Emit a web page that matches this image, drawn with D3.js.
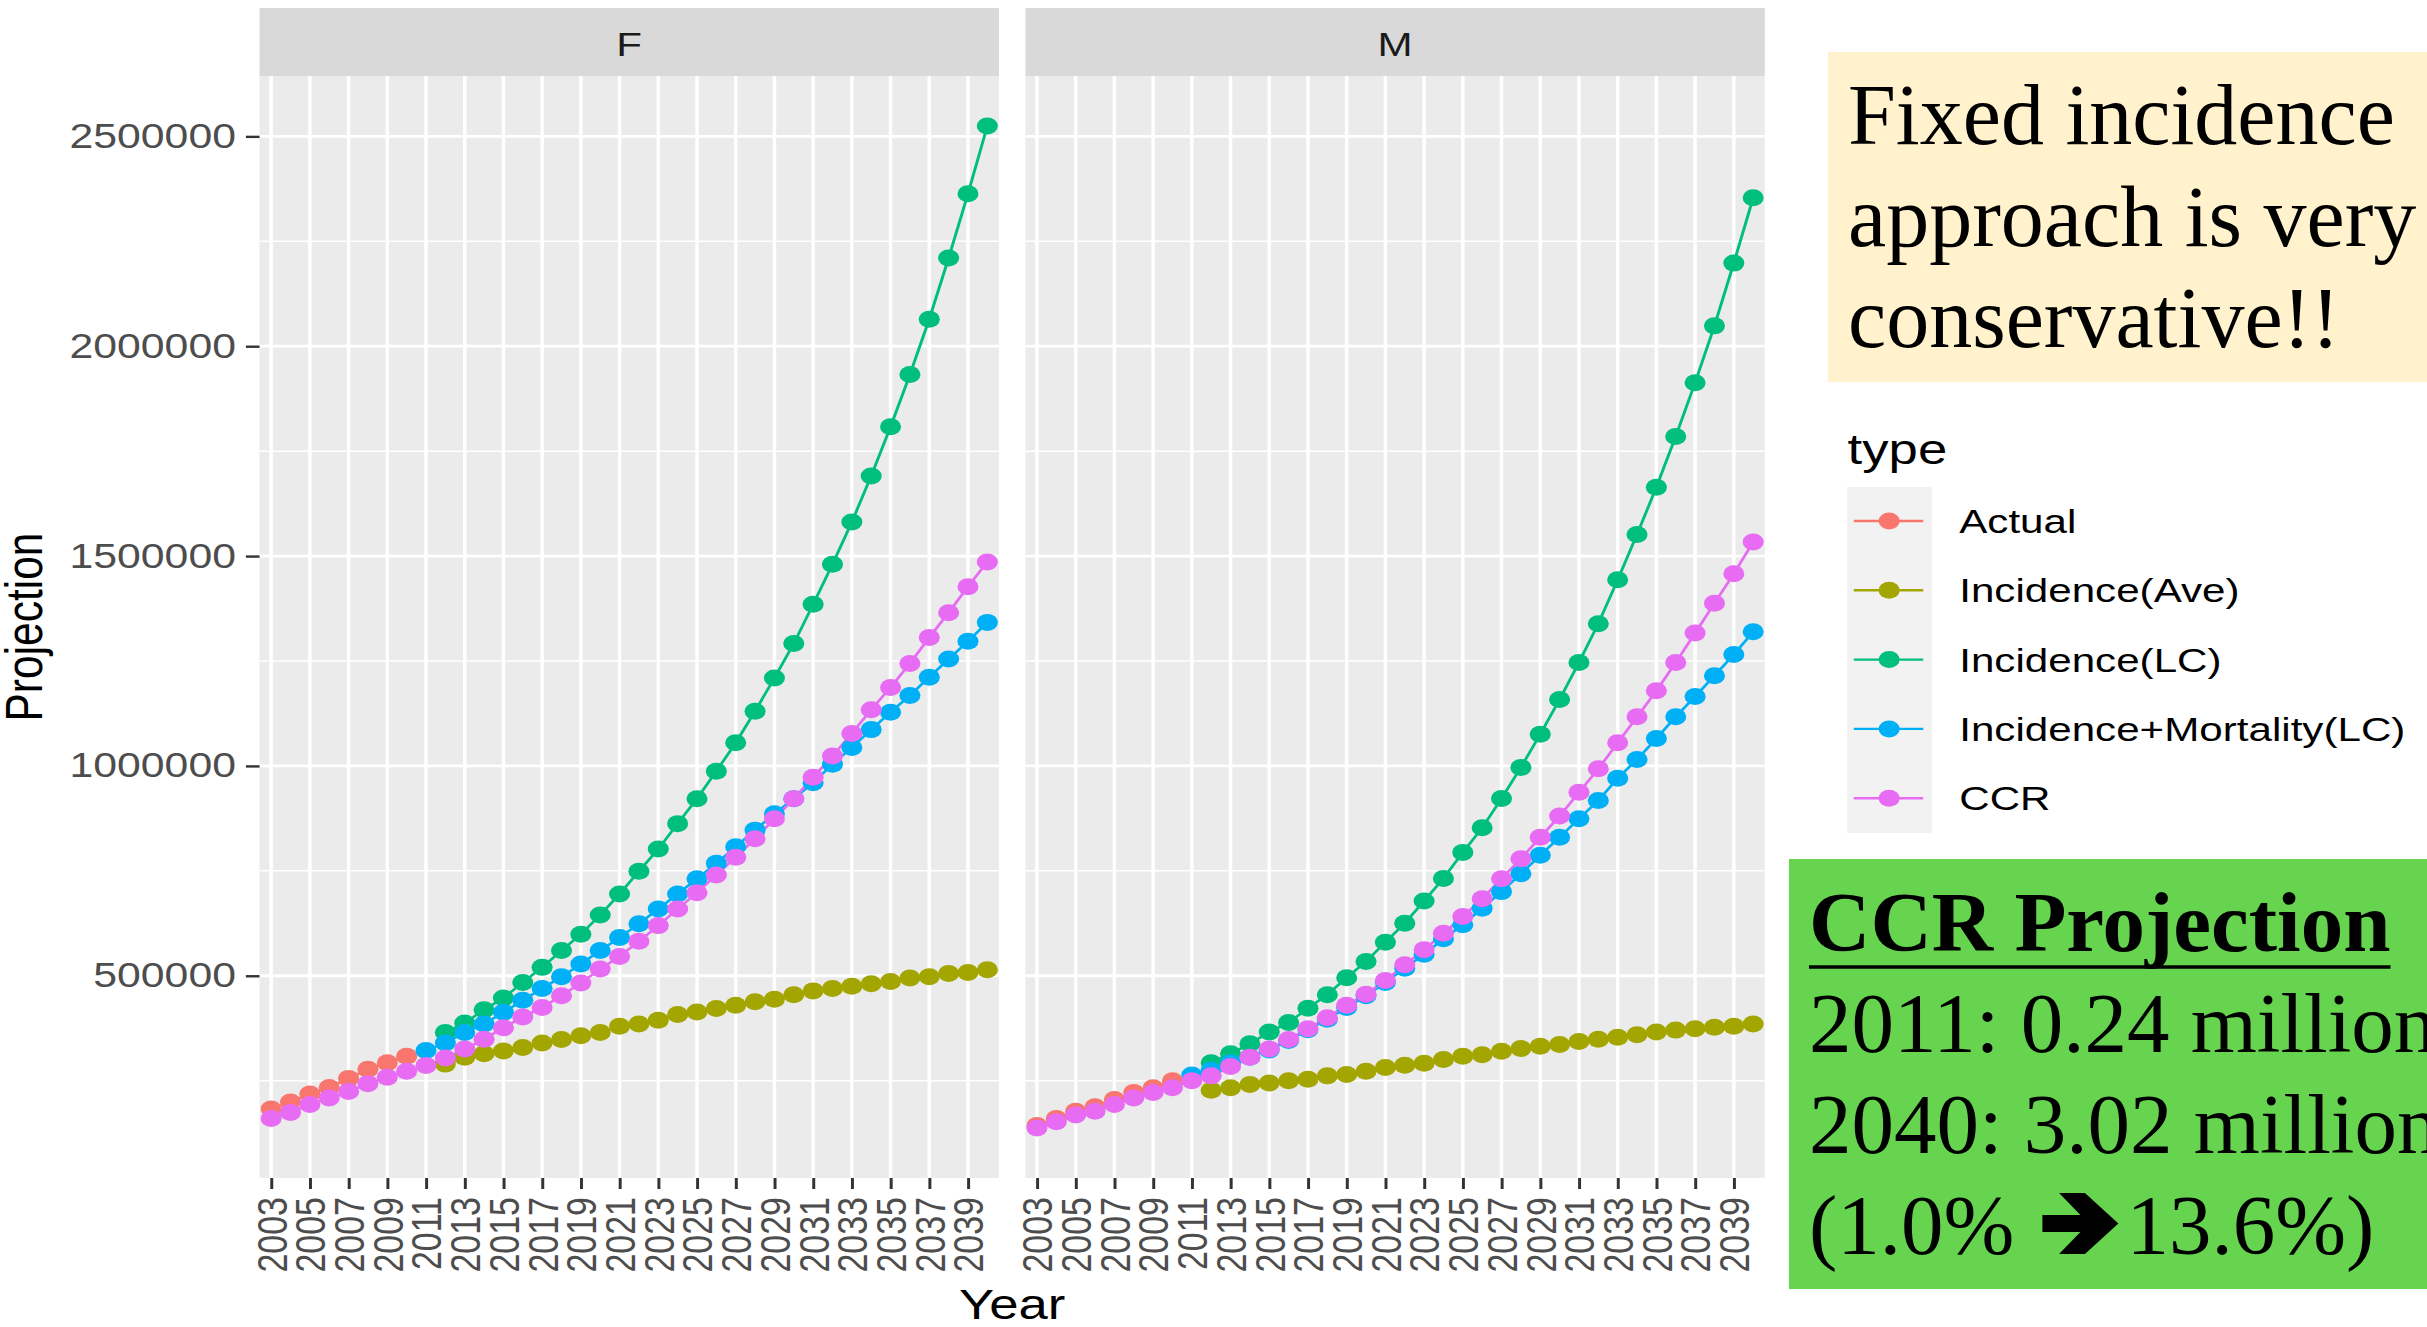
<!DOCTYPE html>
<html>
<head>
<meta charset="utf-8">
<script src="https://cdn.jsdelivr.net/npm/d3@7"></script>
<style>
  html, body { margin: 0; padding: 0; background: #fff; overflow: hidden; }
  svg { display: block; }
</style>
</head>
<body>
<svg id="chart" width="2427" height="1327"></svg>
<script>
// ---- data ----
const years = [2003, 2004, 2005, 2006, 2007, 2008, 2009, 2010, 2011, 2012, 2013, 2014, 2015,
  2016, 2017, 2018, 2019, 2020, 2021, 2022, 2023, 2024, 2025, 2026, 2027, 2028, 2029, 2030,
  2031, 2032, 2033, 2034, 2035, 2036, 2037, 2038, 2039, 2040];
const yearBreaks = [2003, 2005, 2007, 2009, 2011, 2013, 2015, 2017, 2019, 2021, 2023, 2025,
  2027, 2029, 2031, 2033, 2035, 2037, 2039];
const facets = ["F", "M"];
const types = ["Actual", "Incidence(Ave)", "Incidence(LC)", "Incidence+Mortality(LC)", "CCR"];
const typeColors = ["#F8766D", "#A3A500", "#00BF7D", "#00B0F6", "#E76BF3"];
const firstYear = [2003, 2012, 2012, 2011, 2003]; // first year of each series

// F panel
const actualF = [182500, 199000, 218500, 234000, 255500, 277000, 293000, 308500];
const aveF = [289500, 306000, 314000, 321000, 329000, 340000, 348000, 357000, 365000, 379500,
  385000, 394000, 407500, 413500, 422000, 430000, 438000, 444000, 455000, 464000, 469500,
  475000, 481000, 486500, 494500, 497500, 505500, 508000, 514500];
const lcF = [365000, 387500, 419000, 447000, 484000, 520000, 560000, 599000, 645000, 695000,
  749000, 802000, 862500, 922000, 987500, 1055000, 1130500, 1209500, 1291500, 1385000, 1480500,
  1581000, 1691000, 1808000, 1932500, 2064500, 2210000, 2363500, 2524500];
const imF = [322000, 340000, 365000, 385000, 413000, 441500, 469500, 497500, 528000, 560000,
  591000, 624000, 659000, 695000, 731000, 768000, 807500, 847000, 886000, 922000, 960000,
  1004000, 1044000, 1086500, 1128000, 1168000, 1211500, 1254500, 1297000, 1342000];
const ccrF = [160000, 174500, 193500, 208500, 224000, 243000, 258000, 272500, 286000, 304000,
  325500, 349000, 376000, 402000, 424500, 452500, 483000, 516000, 546000, 582000, 619500,
  659000, 698000, 740000, 782500, 826500, 874000, 922000, 973000, 1023500, 1077500, 1134000,
  1187000, 1244000, 1306000, 1365000, 1427000, 1486000];

// M panel
const actualM = [143000, 160000, 177000, 188000, 205000, 222000, 233000, 250000];
const aveM = [227500, 233000, 241000, 244500, 250000, 253500, 261500, 264500, 272500, 281500,
  287000, 291500, 300500, 308500, 312000, 320000, 326500, 332000, 336500, 343500, 349000,
  353500, 359500, 366000, 370500, 374000, 377500, 379500, 385000];
const lcM = [293000, 314000, 338000, 366000, 388500, 422500, 455000, 495500, 534000, 580000,
  625000, 678000, 732000, 794000, 852500, 922500, 996500, 1075500, 1158500, 1246500, 1339000,
  1443500, 1551500, 1664000, 1785000, 1913000, 2048500, 2198000, 2353500];
const imM = [263500, 275000, 293000, 306000, 323000, 345500, 371500, 396500, 424500, 452500,
  484000, 518000, 551000, 588000, 621500, 661000, 700500, 743000, 787000, 830000, 874000,
  917500, 970500, 1015500, 1065500, 1117000, 1165500, 1215000, 1265500, 1319500];
const ccrM = [137500, 152000, 168000, 177000, 193500, 208500, 222000, 233000, 250000, 261500,
  284000, 306000, 325500, 348000, 374000, 400000, 430000, 456000, 488500, 526000, 562000,
  601500, 641000, 683500, 731000, 779000, 830000, 880500, 937000, 993000, 1055000, 1117000,
  1179000, 1246500, 1316500, 1387500, 1458000, 1533500];

const yBreaks = [500000, 1000000, 1500000, 2000000, 2500000];
const yMinorBreaks = [250000, 750000, 1250000, 1750000, 2250000];

const noteLines = ["Fixed incidence", "approach is very", "conservative!!"];
const ccrTitle = "CCR Projection";
const ccrLines = ["2011: 0.24 million", "2040: 3.02 million"];
const ccrChange = ["(1.0%", "13.6%)"];

// ---- layout ----
const SX = 1.24;                 // the ggplot image is stretched sideways
const stripTop = 8, panelTop = 76, panelBottom = 1178;
const panelX = [[209.3, 805.6], [826.9, 1423.2]];
const sansFont = "'Liberation Sans', Arial, sans-serif";
const serifFont = "'Liberation Serif', 'Times New Roman', serif";

const seriesByFacet = {
  F: [actualF, aveF, lcF, imF, ccrF],
  M: [actualM, aveM, lcM, imM, ccrM]
};

const svg = d3.select("#chart");
const plot = svg.append("g").attr("transform", `scale(${SX},1)`);

const allValues = Object.values(seriesByFacet).flat(2);
const [lo, hi] = d3.extent(allValues);
const pad = (hi - lo) * 0.05;
const y = d3.scaleLinear().domain([lo - pad, hi + pad]).range([panelBottom, panelTop]);

const line = d3.line();

facets.forEach((facet, fi) => {
  const [x0, x1] = panelX[fi];
  const x = d3.scalePoint().domain(years).range([x0, x1]).padding(0.6);
  const g = plot.append("g").attr("class", "panel-" + facet);

  // panel background + grid
  g.append("rect")
    .attr("x", x0).attr("y", panelTop)
    .attr("width", x1 - x0).attr("height", panelBottom - panelTop)
    .attr("fill", "#EBEBEB");

  g.selectAll("line.minor")
    .data(yMinorBreaks.filter(v => v > y.domain()[0] && v < y.domain()[1]))
    .join("line")
    .attr("class", "minor")
    .attr("x1", x0).attr("x2", x1)
    .attr("y1", d => y(d)).attr("y2", d => y(d))
    .attr("stroke", "#fff").attr("stroke-width", 1.5);

  g.selectAll("line.hmajor")
    .data(yBreaks)
    .join("line")
    .attr("class", "hmajor")
    .attr("x1", x0).attr("x2", x1)
    .attr("y1", d => y(d)).attr("y2", d => y(d))
    .attr("stroke", "#fff").attr("stroke-width", 2.8);

  g.selectAll("line.vmajor")
    .data(yearBreaks)
    .join("line")
    .attr("class", "vmajor")
    .attr("x1", d => x(d)).attr("x2", d => x(d))
    .attr("y1", panelTop).attr("y2", panelBottom)
    .attr("stroke", "#fff").attr("stroke-width", 2.8);

  // strip
  g.append("rect")
    .attr("x", x0).attr("y", stripTop)
    .attr("width", x1 - x0).attr("height", panelTop - stripTop)
    .attr("fill", "#D9D9D9");
  g.append("text")
    .attr("x", (x0 + x1) / 2).attr("y", (stripTop + panelTop) / 2)
    .attr("dy", "0.4em")
    .attr("text-anchor", "middle")
    .attr("font-family", sansFont).attr("font-size", 34)
    .attr("fill", "#1A1A1A")
    .text(facet);

  // series
  const series = seriesByFacet[facet].map((vals, ti) =>
    vals.map((v, i) => ({ year: firstYear[ti] + i, value: v, type: ti })));

  g.selectAll("path.series")
    .data(series)
    .join("path")
    .attr("class", "series")
    .attr("d", s => line(s.map(d => [x(d.year), y(d.value)])))
    .attr("fill", "none")
    .attr("stroke", (s, i) => typeColors[i])
    .attr("stroke-width", 2.4);

  g.selectAll("g.pts")
    .data(series)
    .join("g")
    .attr("class", "pts")
    .attr("fill", (s, i) => typeColors[i])
    .selectAll("circle")
    .data(s => s)
    .join("circle")
    .attr("cx", d => x(d.year))
    .attr("cy", d => y(d.value))
    .attr("r", 8.5);

  // x axis
  const xAxis = g.append("g")
    .attr("transform", `translate(0,${panelBottom})`)
    .call(d3.axisBottom(x).tickValues(yearBreaks).tickSize(11).tickPadding(8));
  xAxis.select(".domain").remove();
  xAxis.selectAll(".tick line").attr("stroke", "#333").attr("stroke-width", 2.4);
  xAxis.selectAll(".tick text")
    .attr("transform", "rotate(-90)")
    .attr("text-anchor", "end")
    .attr("x", -19).attr("y", 0).attr("dy", "0.35em")
    .attr("font-family", sansFont).attr("font-size", 34)
    .attr("fill", "#4D4D4D");

  // y axis on the first panel only
  if (fi === 0) {
    const yAxis = g.append("g")
      .attr("transform", `translate(${x0},0)`)
      .call(d3.axisLeft(y).tickValues(yBreaks).tickSize(11).tickPadding(8)
        .tickFormat(d3.format("d")));
    yAxis.select(".domain").remove();
    yAxis.selectAll(".tick line").attr("stroke", "#333").attr("stroke-width", 2.4);
    yAxis.selectAll(".tick text")
      .attr("font-family", sansFont).attr("font-size", 34.5)
      .attr("fill", "#4D4D4D");
  }
});

// axis titles
plot.append("text")
  .attr("x", (panelX[0][0] + panelX[1][1]) / 2).attr("y", 1319)
  .attr("text-anchor", "middle")
  .attr("font-family", sansFont).attr("font-size", 42.5)
  .text("Year");
plot.append("text")
  .attr("transform", `translate(34,${(panelTop + panelBottom) / 2}) rotate(-90)`)
  .attr("text-anchor", "middle")
  .attr("font-family", sansFont).attr("font-size", 42.5)
  .text("Projection");

// legend
const legend = plot.append("g").attr("transform", "translate(1490,0)");
legend.append("text")
  .attr("x", 0).attr("y", 464)
  .attr("font-family", sansFont).attr("font-size", 42.5)
  .text("type");
legend.append("rect")
  .attr("x", -0.5).attr("y", 487)
  .attr("width", 68.5).attr("height", 346)
  .attr("fill", "#F2F2F2");
const keys = legend.selectAll("g.key")
  .data(types)
  .join("g")
  .attr("class", "key")
  .attr("transform", (d, i) => `translate(0,${521 + i * 69.3})`);
keys.append("line")
  .attr("x1", 5).attr("x2", 61)
  .attr("stroke", (d, i) => typeColors[i]).attr("stroke-width", 2.4);
keys.append("circle")
  .attr("cx", 33.5).attr("r", 8.5)
  .attr("fill", (d, i) => typeColors[i]);
keys.append("text")
  .attr("x", 90).attr("dy", "0.35em")
  .attr("font-family", sansFont).attr("font-size", 34)
  .text(d => d);

// ---- slide annotations (not stretched) ----
svg.append("rect")
  .attr("x", 1828).attr("y", 52).attr("width", 2427 - 1828).attr("height", 330)
  .attr("fill", "#FFF2CC");
svg.append("g")
  .selectAll("text")
  .data(noteLines)
  .join("text")
  .attr("x", 1848).attr("y", (d, i) => 144 + i * 101.5)
  .attr("font-family", serifFont).attr("font-size", 86)
  .attr("fill", "#000")
  .text(d => d);

svg.append("rect")
  .attr("x", 1789).attr("y", 859).attr("width", 2427 - 1789).attr("height", 430)
  .attr("fill", "#66D44F");
const ccr = svg.append("g").attr("font-family", serifFont).attr("font-size", 85).attr("fill", "#000");
const title = ccr.append("text")
  .attr("x", 1809).attr("y", 951)
  .attr("font-weight", "bold")
  .text(ccrTitle);
const titleLen = title.node().getComputedTextLength();
ccr.append("line")
  .attr("x1", 1809).attr("x2", 1809 + titleLen)
  .attr("y1", 967).attr("y2", 967)
  .attr("stroke", "#000").attr("stroke-width", 3.5);
ccr.selectAll("text.val")
  .data(ccrLines)
  .join("text")
  .attr("class", "val")
  .attr("x", 1809).attr("y", (d, i) => 1052 + i * 101)
  .text(d => d);
const baseLast = 1254;
const left = ccr.append("text").attr("x", 1809).attr("y", baseLast).text(ccrChange[0]);
const ax = 1809 + left.node().getComputedTextLength() + 28;
const aw = 76, ah = 61, ay = baseLast - ah;
const arrowPts = [[0, 0.36], [0.5, 0.36], [0.22, 0], [0.56, 0], [1, 0.5], [0.56, 1],
  [0.22, 1], [0.5, 0.64], [0, 0.64]];
ccr.append("polygon")
  .attr("points", arrowPts.map(([px, py]) => `${ax + px * aw},${ay + py * ah}`).join(" "))
  .attr("fill", "#000");
ccr.append("text").attr("x", ax + aw + 8).attr("y", baseLast).text(ccrChange[1]);
</script>
</body>
</html>
